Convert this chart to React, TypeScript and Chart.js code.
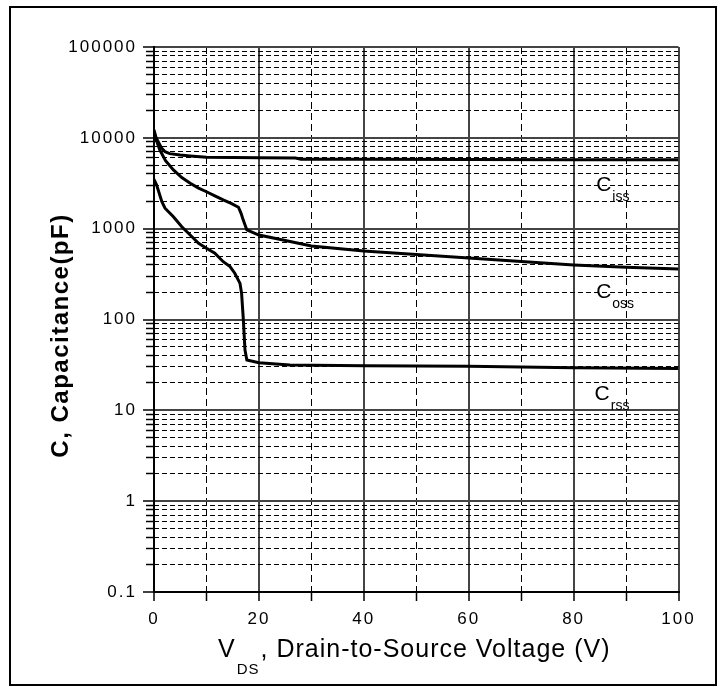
import React, { useEffect, useRef } from 'react';
import { Chart, registerables } from 'chart.js';

Chart.register(...registerables);

// ---- data ----
const vCiss = [0, 0.4, 0.8, 1.4, 2.1, 3, 5, 6.9, 10, 15, 20, 27, 28, 40, 60, 80, 100];
const ciss = [12200, 10000, 9060, 7800, 7030, 6700, 6470, 6310, 6110, 6060, 6040, 6000, 5820, 5800, 5770, 5740, 5720];

const vCoss = [0, 0.5, 1.1, 2.2, 3.7, 5.3, 6.9, 8.5, 10, 11.6, 13.2, 14.7, 16.1, 16.6, 17, 17.7, 20, 24.6, 30, 40, 50, 60, 70, 80, 90, 100];
const coss = [11500, 9200, 7350, 5600, 4430, 3650, 3160, 2800, 2550, 2300, 2070, 1900, 1720, 1475, 1250, 967, 851, 750, 644, 567, 520, 475, 435, 398, 375, 360];

const vCrss = [0, 0.5, 1.5, 2.1, 3.7, 5.3, 6.9, 8.5, 10, 11.6, 13.2, 14.5, 15.4, 16.4, 16.7, 17, 17.35, 17.7, 20, 25.9, 40, 60, 80, 100];
const crss = [3500, 3020, 1980, 1680, 1350, 1050, 851, 690, 608, 536, 433, 382, 323, 250, 194, 107, 46, 35.8, 33.4, 31.5, 31, 30.5, 29.5, 28.8];

const xMajorTicks = [0, 20, 40, 60, 80, 100];
const xMinorTicks = [10, 30, 50, 70, 90];
const yDecades = [0.1, 1, 10, 100, 1000, 10000, 100000];
const yTickLabels = ['0.1', '1', '10', '100', '1000', '10000', '100000'];
const yMinorMultipliers = [2, 3, 4, 5, 6, 7, 8, 9];

const curveSubscripts = ['iss', 'oss', 'rss'];
const curveLabelV = [84.3, 84.3, 84.0];
const curveLabelC = [2600, 173, 13];

const yTitle = 'C, Capacitance(pF)';
const xTitleMain = 'V';
const xTitleSub = 'DS';
const xTitleRest = ', Drain-to-Source Voltage (V)';

const FONT = '"Liberation Sans", Arial, sans-serif';

const yMinorTicks: number[] = [];
yDecades.slice(0, -1).forEach((d) => yMinorMultipliers.forEach((m) => yMinorTicks.push(d * m)));

const decorations = {
  id: 'decorations',
  beforeDraw(chart: any) {
    const ctx = chart.ctx;
    ctx.save();
    ctx.fillStyle = '#fff';
    ctx.fillRect(0, 0, chart.width, chart.height);
    ctx.restore();
    ctx.letterSpacing = '2px';
  },
  afterDraw(chart: any) {
    const ctx = chart.ctx;
    ctx.letterSpacing = '0px';
    ctx.save();
    // outer frame
    ctx.strokeStyle = '#000';
    ctx.lineWidth = 2;
    ctx.strokeRect(10, 7, 706, 678);

    ctx.fillStyle = '#000';
    // y title
    ctx.save();
    ctx.translate(68, 335.5);
    ctx.rotate(-Math.PI / 2);
    ctx.font = 'bold 24px ' + FONT;
    ctx.letterSpacing = '1.5px';
    ctx.textAlign = 'center';
    ctx.textBaseline = 'alphabetic';
    ctx.fillText(yTitle, 0, 0);
    ctx.restore();

    // x title
    ctx.save();
    ctx.textAlign = 'left';
    ctx.textBaseline = 'alphabetic';
    ctx.letterSpacing = '1px';
    let x = 218;
    const base = 657;
    ctx.font = '25px ' + FONT;
    ctx.fillText(xTitleMain, x, base);
    x += ctx.measureText(xTitleMain).width;
    ctx.font = '15px ' + FONT;
    ctx.fillText(xTitleSub, x + 1, base + 17);
    x += ctx.measureText(xTitleSub).width + 2;
    ctx.font = '25px ' + FONT;
    ctx.fillText(xTitleRest, x, base);
    ctx.restore();

    // curve labels
    const xs = chart.scales.x;
    const ys = chart.scales.y;
    ctx.save();
    ctx.textAlign = 'left';
    ctx.textBaseline = 'alphabetic';
    curveSubscripts.forEach((sub, i) => {
      const px = xs.getPixelForValue(curveLabelV[i]);
      const py = ys.getPixelForValue(curveLabelC[i]);
      ctx.font = '21px ' + FONT;
      ctx.fillText('C', px, py);
      const w = ctx.measureText('C').width;
      ctx.font = '14px ' + FONT;
      ctx.fillText(sub, px + w + 1, py + 10);
    });
    ctx.restore();
    ctx.restore();
  },
};

const tickFont = { family: FONT, size: 17 };

export default function App() {
  const ref = useRef<HTMLCanvasElement>(null);
  useEffect(() => {
    const mk = (xs: number[], ys: number[]) => xs.map((v, i) => ({ x: v, y: ys[i] }));
    const line = (label: string, data: any[]) => ({
      label,
      data,
      borderColor: '#000',
      borderWidth: 3,
      pointRadius: 0,
      tension: 0,
      fill: false,
    });
    const chart = new Chart(ref.current!, {
      type: 'line',
      data: {
        datasets: [
          line('Ciss', mk(vCiss, ciss)),
          line('Coss', mk(vCoss, coss)),
          line('Crss', mk(vCrss, crss)),
        ],
      },
      options: {
        responsive: false,
        animation: false,
        devicePixelRatio: 1,
        layout: { padding: { top: 47, right: 45.5, left: 0, bottom: 0 } },
        plugins: { legend: { display: false }, tooltip: { enabled: false } },
        scales: {
          x: {
            type: 'linear',
            position: 'bottom',
            min: 0,
            max: 100,
            weight: 1,
            afterBuildTicks: (s: any) => {
              s.ticks = xMajorTicks.map((v) => ({ value: v }));
            },
            afterFit: (s: any) => {
              s.height = 95;
            },
            ticks: {
              font: tickFont,
              color: '#000',
              padding: 8,
              maxRotation: 0,
              autoSkip: false,
              callback: (v: any) => String(v),
            },
            grid: { color: '#444', lineWidth: 2, tickLength: 9, tickColor: '#000', tickWidth: 1.5 },
            border: { color: '#000', width: 2 },
          },
          x2: {
            type: 'linear',
            position: 'bottom',
            min: 0,
            max: 100,
            weight: 0,
            afterBuildTicks: (s: any) => {
              s.ticks = xMinorTicks.map((v) => ({ value: v }));
            },
            afterFit: (s: any) => {
              s.height = 0;
            },
            ticks: { display: false },
            grid: { color: '#000', lineWidth: 1, tickLength: 9, tickColor: '#000', tickWidth: 1.5 },
            border: { display: false, dash: [7, 4] },
          },
          y: {
            type: 'logarithmic',
            position: 'left',
            min: 0.1,
            max: 100000,
            weight: 1,
            afterBuildTicks: (s: any) => {
              s.ticks = yDecades.map((v) => ({ value: v, major: true }));
            },
            afterFit: (s: any) => {
              s.width = 154;
            },
            ticks: {
              font: tickFont,
              color: '#000',
              padding: 6,
              autoSkip: false,
              callback: (v: any) => {
                const i = yDecades.findIndex((d) => Math.abs(d - Number(v)) < d * 1e-6);
                return i >= 0 ? yTickLabels[i] : '';
              },
            },
            grid: { color: '#444', lineWidth: 2, tickLength: 11, tickColor: '#000', tickWidth: 1.5 },
            border: { color: '#000', width: 2 },
          },
          y2: {
            type: 'logarithmic',
            position: 'left',
            min: 0.1,
            max: 100000,
            weight: 0,
            afterBuildTicks: (s: any) => {
              s.ticks = yMinorTicks.map((v) => ({ value: v }));
            },
            afterFit: (s: any) => {
              s.width = 0;
            },
            ticks: { display: false },
            grid: { color: '#000', lineWidth: 1, tickLength: 8, tickColor: '#000', tickWidth: 1.5 },
            border: { display: false, dash: [5, 3] },
          },
        },
      },
      plugins: [decorations],
    } as any);
    return () => chart.destroy();
  }, []);
  return (
    <div style={{ position: 'absolute', left: 0, top: 0, width: 724, height: 687, background: '#fff' }}>
      <canvas ref={ref} width={724} height={687} style={{ display: 'block', width: 724, height: 687 }} />
    </div>
  );
}
